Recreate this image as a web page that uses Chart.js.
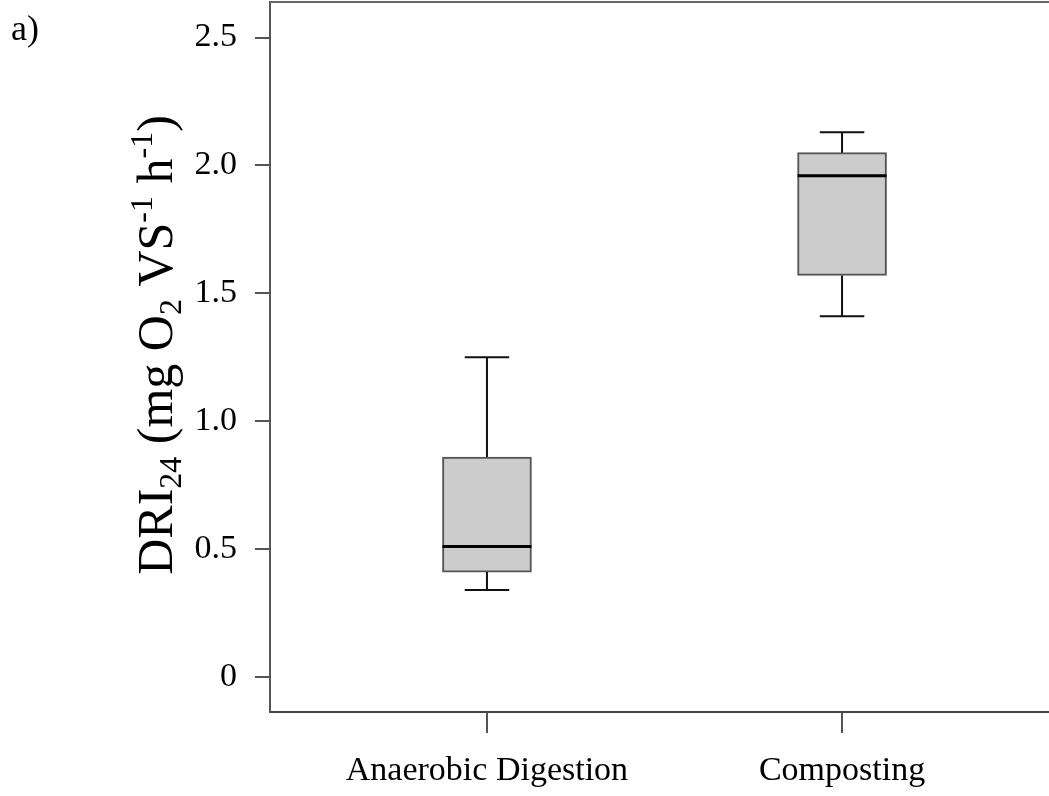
<!DOCTYPE html>
<html>
<head>
<meta charset="utf-8">
<script src="https://cdn.jsdelivr.net/npm/chart.js@4/dist/chart.umd.min.js"></script>
<style>
  html, body { margin: 0; padding: 0; background: #fff; overflow: hidden; }
  #wrap { width: 1070px; height: 796px; position: relative; }
</style>
</head>
<body>
<div id="wrap"><canvas id="chart"></canvas></div>
<script>
const CATEGORIES = ["Anaerobic Digestion", "Composting"];
const MIN_VALUES = [0.34, 1.41];
const Q1_VALUES = [0.41, 1.57];
const MEDIANS = [0.51, 1.96];
const Q3_VALUES = [0.86, 2.05];
const MAX_VALUES = [1.25, 2.13];
const Y_TICKS = [0, 0.5, 1.0, 1.5, 2.0, 2.5];

const FONT = "'Liberation Serif', 'Times New Roman', serif";

// whiskers, caps and median line, drawn through the chart scales
const boxExtras = {
  id: "boxExtras",
  afterDatasetsDraw(chart) {
    const ctx = chart.ctx;
    const x = chart.scales.x;
    const y = chart.scales.y;
    const bars = chart.getDatasetMeta(0).data;
    ctx.save();
    CATEGORIES.forEach((c, i) => {
      const cx = x.getPixelForValue(i);
      const half = bars[i].width / 2;
      const cap = half / 2;
      ctx.strokeStyle = "#111";
      ctx.lineWidth = 2;
      ctx.beginPath();
      ctx.moveTo(cx, y.getPixelForValue(Q3_VALUES[i]));
      ctx.lineTo(cx, y.getPixelForValue(MAX_VALUES[i]));
      ctx.moveTo(cx, y.getPixelForValue(Q1_VALUES[i]));
      ctx.lineTo(cx, y.getPixelForValue(MIN_VALUES[i]));
      ctx.moveTo(cx - cap, y.getPixelForValue(MAX_VALUES[i]));
      ctx.lineTo(cx + cap, y.getPixelForValue(MAX_VALUES[i]));
      ctx.moveTo(cx - cap, y.getPixelForValue(MIN_VALUES[i]));
      ctx.lineTo(cx + cap, y.getPixelForValue(MIN_VALUES[i]));
      ctx.stroke();
      ctx.strokeStyle = "#000";
      ctx.lineWidth = 3;
      ctx.beginPath();
      ctx.moveTo(cx - half, y.getPixelForValue(MEDIANS[i]));
      ctx.lineTo(cx + half, y.getPixelForValue(MEDIANS[i]));
      ctx.stroke();
    });
    ctx.restore();
  }
};

// top frame line, rotated axis title with sub/superscripts, panel letter
const decorations = {
  id: "decorations",
  afterDraw(chart) {
    const ctx = chart.ctx;
    const a = chart.chartArea;
    ctx.save();
    ctx.strokeStyle = "#666";
    ctx.lineWidth = 2;
    ctx.beginPath();
    ctx.moveTo(a.left, a.top);
    ctx.lineTo(a.right, a.top);
    ctx.lineTo(a.right, a.bottom);
    ctx.stroke();

    ctx.fillStyle = "#000";
    ctx.font = "36px " + FONT;
    ctx.textBaseline = "alphabetic";
    ctx.fillText("a)", 11, 40);

    const runs = [
      { t: "DRI", s: 50, dy: 0 },
      { t: "24", s: 32, dy: 9 },
      { t: " (mg O", s: 50, dy: 0 },
      { t: "2", s: 32, dy: 9 },
      { t: " VS", s: 50, dy: 0 },
      { t: "-1", s: 32, dy: -20 },
      { t: " h", s: 50, dy: 0 },
      { t: "-1", s: 32, dy: -20 },
      { t: ")", s: 50, dy: 0 }
    ];
    let total = 0;
    runs.forEach(r => {
      ctx.font = r.s + "px " + FONT;
      r.w = ctx.measureText(r.t).width;
      total += r.w;
    });
    ctx.translate(172, 345 + total / 2);
    ctx.rotate(-Math.PI / 2);
    let px = 0;
    runs.forEach(r => {
      ctx.font = r.s + "px " + FONT;
      ctx.fillText(r.t, px, r.dy);
      px += r.w;
    });
    ctx.restore();
  }
};

const noPad = axis => {
  axis.paddingTop = 0;
  axis.paddingBottom = 0;
  axis.paddingLeft = 0;
  axis.paddingRight = 0;
};

new Chart(document.getElementById("chart"), {
  type: "bar",
  data: {
    datasets: [{
      data: CATEGORIES.map((c, i) => ({ x: i, y: [Q1_VALUES[i], Q3_VALUES[i]] })),
      backgroundColor: "#cccccc",
      borderColor: "#555",
      borderWidth: 2,
      borderSkipped: false,
      barThickness: 89
    }]
  },
  options: {
    responsive: true,
    maintainAspectRatio: false,
    devicePixelRatio: 1,
    animation: false,
    layout: { padding: { left: 0, top: 2, right: 11, bottom: 0 } },
    plugins: {
      legend: { display: false },
      tooltip: { enabled: false }
    },
    scales: {
      x: {
        type: "linear",
        offset: false,
        min: -0.611,
        max: 1.611,
        afterBuildTicks: axis => { axis.ticks = CATEGORIES.map((c, i) => ({ value: i })); },
        afterFit: axis => { axis.height = 84; noPad(axis); },
        border: { display: true, color: "#444", width: 2 },
        grid: { offset: false, drawOnChartArea: false, drawTicks: true, tickLength: 21, color: "#555", lineWidth: 2 },
        ticks: {
          callback: v => CATEGORIES[v] || "",
          color: "#000",
          font: { family: FONT, size: 34 },
          padding: 18,
          maxRotation: 0,
          autoSkip: false
        }
      },
      y: {
        min: -0.137,
        max: 2.639,
        afterBuildTicks: axis => { axis.ticks = Y_TICKS.map(v => ({ value: v })); },
        afterFit: axis => { axis.width = 270; noPad(axis); },
        border: { display: true, color: "#555", width: 2 },
        grid: { drawOnChartArea: false, drawTicks: true, tickLength: 15, color: "#555", lineWidth: 2 },
        ticks: {
          callback: v => (v === 0 ? "0" : v.toFixed(1)),
          color: "#000",
          font: { family: FONT, size: 34 },
          padding: 18
        }
      }
    }
  },
  plugins: [boxExtras, decorations]
});
</script>
</body>
</html>
